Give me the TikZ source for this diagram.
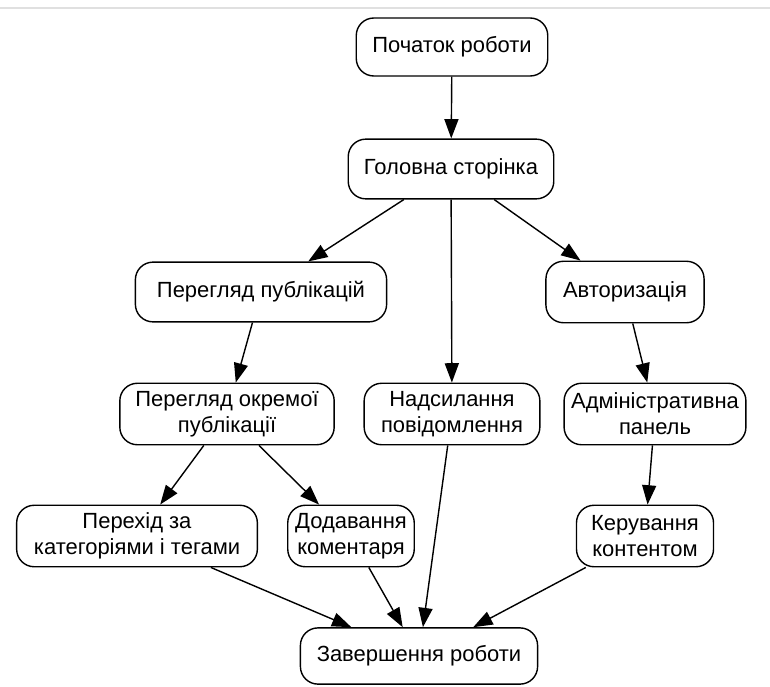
\documentclass[tikz,border=0pt]{standalone}
\usepackage{fontspec}
\setmainfont{Liberation Sans}
\usetikzlibrary{arrows.meta}

\tikzset{
  stage/.style={draw, rounded corners=10pt, align=center, inner sep=2pt,
    font=\fontsize{12.5}{14.7}\selectfont, line width=0.8pt},
  flow/.style={-{Triangle[length=11pt, width=8pt]}, line width=0.8pt},
}

\begin{document}
\begin{tikzpicture}[x=0.02cm, y=-0.02cm]

  % page frame
  \useasboundingbox (0, 0) rectangle (770, 686);
  \draw [black!12, line width=0.6pt] (0, 8) -- (770, 8);

  % stages
  \node at (452, 47) (start) [stage, minimum width=109pt, minimum height=33pt] {Початок роботи};
  \node at (451, 169) (home) [stage, minimum width=117pt, minimum height=34pt] {Головна сторінка};
  \node at (261, 292) (posts) [stage, minimum width=143pt, minimum height=34pt] {Перегляд публікацій};
  \node at (625, 292) (login) [stage, minimum width=90pt, minimum height=35pt] {Авторизація};
  \node at (227, 414) (post) [stage, minimum width=122pt, minimum height=35pt] {Перегляд окремої\\публікації};
  \node at (452, 414) (message) [stage, minimum width=100pt, minimum height=35pt] {Надсилання\\повідомлення};
  \node at (655, 414) (admin) [stage, minimum width=98pt, minimum height=35pt, inner sep=4pt] {Адміністративна\\панель};
  \node at (137, 536) (tags) [stage, minimum width=137pt, minimum height=35pt] {Перехід за\\категоріями і тегами};
  \node at (351, 536) (comment) [stage, minimum width=72pt, minimum height=35pt] {Додавання\\коментаря};
  \node at (645, 536) (content) [stage, minimum width=78pt, minimum height=35pt] {Керування\\контентом};
  \node at (419, 656) (finish) [stage, minimum width=135pt, minimum height=32pt] {Завершення роботи};

  % transitions
  \draw [flow] (start) -- (home);
  \draw [flow] (home) -- (posts);
  \draw [flow] (home) -- (message);
  \draw [flow] (home) -- (login);
  \draw [flow] (posts) -- (post);
  \draw [flow] (login) -- (admin);
  \draw [flow] (post) -- (tags);
  \draw [flow] (post) -- (comment);
  \draw [flow] (admin) -- (content);
  \draw [flow] (tags) -- (finish);
  \draw [flow] (comment) -- (finish);
  \draw [flow] (message) -- (finish);
  \draw [flow] (content) -- (finish);

\end{tikzpicture}
\end{document}
